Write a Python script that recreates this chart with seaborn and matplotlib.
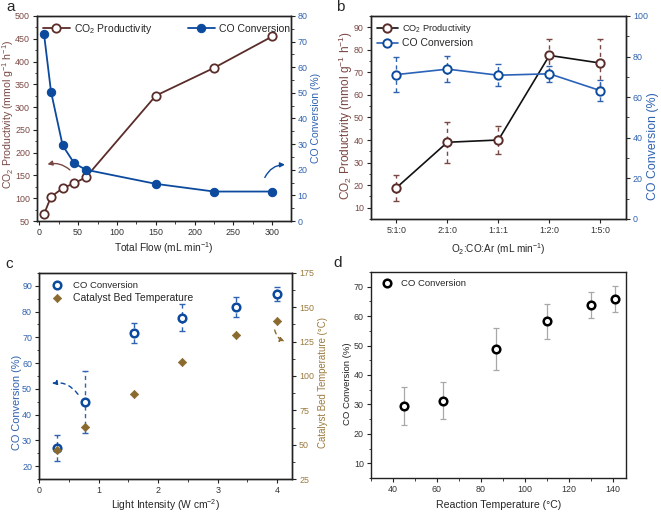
"""Four-panel figure: CO2 productivity / CO conversion under different conditions."""
import matplotlib
matplotlib.use('Agg')
import seaborn as sns
import numpy as np
from matplotlib import pyplot as plt
from matplotlib.ticker import AutoMinorLocator, MultipleLocator

# panel a: total flow
flow = [6, 15, 30, 45, 60, 150, 225, 300]
flow_productivity = [65, 103, 122, 133, 146, 325, 386, 455]
flow_conversion = [73, 50.5, 29.5, 22.5, 20, 14.5, 11.5, 11.5]

# panel b: gas ratio
ratios = ['5:1:0', '2:1:0', '1:1:1', '1:2:0', '1:5:0']
ratio_productivity = [18.8, 39, 40, 77.5, 74.1]
ratio_productivity_err = [5.7, 9, 6, 7.4, 10.8]
ratio_conversion = [71.1, 73.8, 70.8, 71.5, 63.2]
ratio_conversion_err = [8.8, 6.4, 5.3, 3.9, 5.3]

# panel c: light intensity
intensity = [0.3, 0.77, 1.6, 2.4, 3.3, 4.0]
light_conversion = [27.1, 45.0, 71.8, 77.7, 81.7, 87.0]
light_conversion_err = [5.1, 12.0, 3.9, 5.4, 3.9, 2.7]
bed_temperature = [46, 63, 87, 110, 130, 140]

# panel d: reaction temperature
reaction_temp = [45, 63, 87, 110, 130, 141]
temp_conversion = [29.5, 31.2, 48.8, 58.2, 63.7, 65.8]
temp_conversion_err = [6.4, 6.3, 7.2, 6.0, 4.5, 4.5]

BROWN = '#5a2d2a'
BROWN_TXT = '#7a4844'
BLUE = '#0c4a9e'
BLUE_TXT = '#2f62b0'
GOLD = '#8a6a2e'
GOLD_TXT = '#9a7a3e'

sns.set_style('ticks')
plt.rcParams['font.family'] = ['Liberation Sans', 'DejaVu Sans']
plt.rcParams['mathtext.fontset'] = 'custom'
plt.rcParams['mathtext.rm'] = 'Liberation Sans'
plt.rcParams['mathtext.it'] = 'Liberation Sans:italic'
plt.rcParams['axes.linewidth'] = 1.0
plt.rcParams['axes.edgecolor'] = '#222222'

TICK_FS = 6.4


def style_axis(ax):
    ax.tick_params(axis='both', which='major', direction='out', length=3,
                   width=0.8, pad=2, labelsize=TICK_FS, colors='#222222',
                   labelcolor='#333333')
    ax.tick_params(axis='both', which='minor', direction='out', length=1.8,
                   width=0.6, colors='#222222')
    ax.yaxis.set_minor_locator(AutoMinorLocator(2))


def place_xlabel(ax, text, size, ypos):
    ax.set_xlabel(text, fontsize=size)
    ax.xaxis.label.set_va('center')
    ax.xaxis.set_label_coords(0.5, ypos)


def place_ylabel(ax, text, size, xpos, ypos, color='#222222'):
    ax.set_ylabel(text, fontsize=size, color=color)
    ax.yaxis.label.set_va('center')
    ax.yaxis.set_label_coords(xpos, ypos)


fig = plt.figure(figsize=(6.61, 5.14), dpi=100)
ax_a = fig.add_axes([0.056, 0.570, 0.384, 0.399])
ax_b = fig.add_axes([0.561, 0.574, 0.386, 0.395])
ax_c = fig.add_axes([0.059, 0.068, 0.383, 0.401])
ax_d = fig.add_axes([0.561, 0.070, 0.386, 0.401])

# ---------------- panel a ----------------
ax_a2 = ax_a.twinx()
sns.lineplot(x=flow, y=flow_productivity, ax=ax_a, color=BROWN, lw=1.3,
             marker='o', markersize=6, markerfacecolor='white',
             markeredgecolor=BROWN, markeredgewidth=1.3,
             label='CO$_2$ Productivity', legend=False)
sns.lineplot(x=flow, y=flow_conversion, ax=ax_a2, color=BLUE, lw=1.3,
             marker='o', markersize=6, markerfacecolor=BLUE,
             markeredgecolor=BLUE, label='CO Conversion', legend=False)
ax_a.set(xlim=(-3, 324), ylim=(50, 500))
ax_a2.set_ylim(0, 80)
ax_a.xaxis.set_major_locator(MultipleLocator(50))
ax_a.xaxis.set_minor_locator(AutoMinorLocator(2))
ax_a.yaxis.set_major_locator(MultipleLocator(50))
ax_a2.yaxis.set_major_locator(MultipleLocator(10))
style_axis(ax_a)
style_axis(ax_a2)
ax_a.tick_params(axis='y', labelcolor=BROWN_TXT)
ax_a2.tick_params(axis='y', labelcolor=BLUE_TXT)
place_xlabel(ax_a, 'Total Flow (mL min$^{-1}$)', 7.3, -0.132)
place_ylabel(ax_a, 'CO$_2$ Productivity (mmol g$^{-1}$ h$^{-1}$)', 7.6,
             -0.112, 0.522, BROWN_TXT)
place_ylabel(ax_a2, 'CO Conversion (%)', 7.5, 1.098, 0.505, BLUE_TXT)
h1, l1 = ax_a.get_legend_handles_labels()
h2, l2 = ax_a2.get_legend_handles_labels()
ax_a2.legend(h1 + h2, l1 + l2, loc='upper left', ncol=2, frameon=False,
             fontsize=7.5, handlelength=2.6, handletextpad=0.4,
             columnspacing=3.4, borderaxespad=0.15,
             bbox_to_anchor=(0.0, 1.0))
ax_a.annotate('', xy=(7, 173), xytext=(42, 158),
              arrowprops=dict(arrowstyle='-|>', color=BROWN_TXT, lw=1.0,
                              mutation_scale=7,
                              connectionstyle='arc3,rad=0.3'))
ax_a2.annotate('', xy=(320, 22), xytext=(289, 16),
               arrowprops=dict(arrowstyle='-|>', color=BLUE, lw=1.0,
                               mutation_scale=7,
                               connectionstyle='arc3,rad=-0.35'))

# ---------------- panel b ----------------
ax_b2 = ax_b.twinx()
sns.lineplot(x=ratios, y=ratio_productivity, ax=ax_b, color='#111111',
             lw=1.2, marker='o', markersize=6, markerfacecolor='white',
             markeredgecolor=BROWN, markeredgewidth=1.4,
             label='CO$_2$ Productivity', legend=False, sort=False)
eb = ax_b.errorbar(ratios, ratio_productivity, yerr=ratio_productivity_err,
                   fmt='none', ecolor=BROWN_TXT, elinewidth=1.0, capsize=2.5,
                   capthick=1.0, zorder=1)
eb[2][0].set_linestyle((0, (3, 2.5)))
sns.lineplot(x=ratios, y=ratio_conversion, ax=ax_b2, color='#2a62b8',
             lw=1.2, marker='o', markersize=6, markerfacecolor='white',
             markeredgecolor=BLUE, markeredgewidth=1.4,
             label='CO Conversion', legend=False, sort=False)
eb = ax_b2.errorbar(ratios, ratio_conversion, yerr=ratio_conversion_err,
                    fmt='none', ecolor=BLUE_TXT, elinewidth=1.0, capsize=2.5,
                    capthick=1.0, zorder=1)
eb[2][0].set_linestyle((0, (3, 2.5)))
ax_b.set(xlim=(-0.5, 4.5), ylim=(5, 95))
ax_b2.set_ylim(0, 100)
ax_b.yaxis.set_major_locator(MultipleLocator(10))
ax_b2.yaxis.set_major_locator(MultipleLocator(20))
style_axis(ax_b)
style_axis(ax_b2)
ax_b.tick_params(axis='y', labelcolor=BROWN_TXT)
ax_b2.tick_params(axis='y', labelcolor=BLUE_TXT)
place_xlabel(ax_b, 'O$_2$:CO:Ar (mL min$^{-1}$)', 7.2, -0.148)
place_ylabel(ax_b, 'CO$_2$ Productivity (mmol g$^{-1}$ h$^{-1}$)', 8.6,
             -0.098, 0.507, BROWN_TXT)
place_ylabel(ax_b2, 'CO Conversion (%)', 8.9, 1.106, 0.357, BLUE_TXT)
h1, l1 = ax_b.get_legend_handles_labels()
h2, l2 = ax_b2.get_legend_handles_labels()
leg = ax_b2.legend(h1 + h2, l1 + l2, loc='upper left', frameon=False,
                   fontsize=7.5, handlelength=2.0, handletextpad=0.4,
                   labelspacing=0.3, borderaxespad=0.2)
leg.get_texts()[0].set_fontsize(6.7)

# ---------------- panel c ----------------
ax_c2 = ax_c.twinx()
eb = ax_c.errorbar(intensity, light_conversion, yerr=light_conversion_err,
                   fmt='none', ecolor=BLUE_TXT, elinewidth=1.0, capsize=2.5,
                   capthick=1.0, zorder=1)
eb[2][0].set_linestyle((0, (3, 2.5)))
sns.scatterplot(x=intensity, y=light_conversion, ax=ax_c, marker='o', s=30,
                facecolor='white', edgecolor=BLUE, linewidth=1.8,
                label='CO Conversion', legend=False, zorder=3)
sns.scatterplot(x=intensity, y=bed_temperature, ax=ax_c2, marker='D', s=18,
                color=GOLD, edgecolor=GOLD, linewidth=0.5,
                label='Catalyst Bed Temperature', legend=False, zorder=3)
ax_c.set(xlim=(0, 4.25), ylim=(15, 95))
ax_c2.set_ylim(25, 175)
ax_c.xaxis.set_major_locator(MultipleLocator(1))
ax_c.xaxis.set_minor_locator(AutoMinorLocator(2))
ax_c.yaxis.set_major_locator(MultipleLocator(10))
ax_c2.yaxis.set_major_locator(MultipleLocator(25))
style_axis(ax_c)
style_axis(ax_c2)
ax_c.tick_params(axis='y', labelcolor=BLUE_TXT)
ax_c2.tick_params(axis='y', labelcolor=GOLD_TXT)
place_xlabel(ax_c, 'Light Intensity (W cm$^{-2}$)', 7.4, -0.128)
place_ylabel(ax_c, 'CO Conversion (%)', 7.9, -0.085, 0.37, BLUE_TXT)
place_ylabel(ax_c2, 'Catalyst Bed Temperature (°C)', 6.9, 1.12, 0.467,
             GOLD_TXT)
h1, l1 = ax_c.get_legend_handles_labels()
h2, l2 = ax_c2.get_legend_handles_labels()
leg = ax_c2.legend(h1 + h2, l1 + l2, loc='upper left', frameon=False,
                   fontsize=7.5, handletextpad=0.6, labelspacing=0.3,
                   borderaxespad=0.3)
leg.get_texts()[0].set_fontsize(6.8)

ax_c.annotate('', xy=(0.17, 52), xytext=(0.68, 47),
              arrowprops=dict(arrowstyle='-|>', color=BLUE, lw=1.0,
                              ls=(0, (3, 3)), mutation_scale=7,
                              connectionstyle='arc3,rad=0.35'))
ax_c2.annotate('', xy=(4.17, 124.5), xytext=(3.95, 135.5),
               arrowprops=dict(arrowstyle='-|>', color=GOLD, lw=1.0,
                               ls=(0, (3, 3)), mutation_scale=7,
                               connectionstyle='arc3,rad=0.35'))

# ---------------- panel d ----------------
ax_d.errorbar(reaction_temp, temp_conversion, yerr=temp_conversion_err,
              fmt='none', ecolor='#a8a8a8', elinewidth=0.9, capsize=2.5,
              capthick=0.9, zorder=1)
sns.scatterplot(x=reaction_temp, y=temp_conversion, ax=ax_d, marker='o', s=30,
                facecolor='white', edgecolor='black', linewidth=1.8,
                label='CO Conversion', legend=False, zorder=3)
ax_d.set(xlim=(30, 146), ylim=(5, 75))
ax_d.xaxis.set_major_locator(MultipleLocator(20))
ax_d.xaxis.set_minor_locator(AutoMinorLocator(2))
ax_d.yaxis.set_major_locator(MultipleLocator(10))
style_axis(ax_d)
place_xlabel(ax_d, 'Reaction Temperature (°C)', 7.6, -0.131)
place_ylabel(ax_d, 'CO Conversion (%)', 6.8, -0.09, 0.46)
ax_d.legend(loc='upper left', frameon=False, fontsize=6.8,
            handletextpad=0.5, borderaxespad=0.3)

# panel letters
for label, (x, y) in zip('abcd', [(0.010, 0.972), (0.508, 0.972),
                                  (0.008, 0.472), (0.505, 0.475)]):
    fig.text(x, y, label, fontsize=11, ha='left', va='bottom')

fig.savefig('out.png', dpi=100)
